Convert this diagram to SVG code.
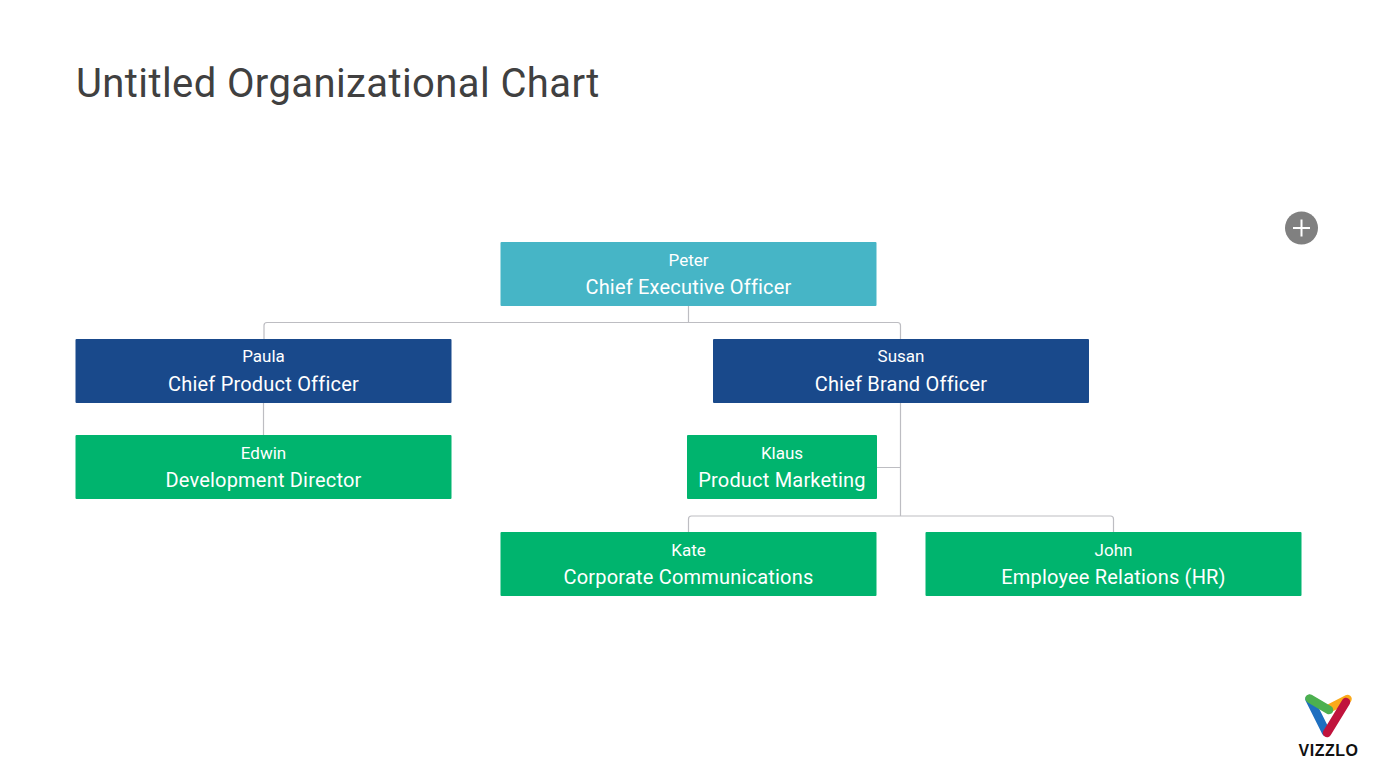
<svg xmlns="http://www.w3.org/2000/svg" width="1378" height="778" viewBox="0 0 1378 778">
<style>
text{font-family:Roboto,"Liberation Sans",sans-serif;text-anchor:middle;fill:#fff}
.n{font-size:17px;font-weight:400}
.r{font-size:20px;font-weight:400;letter-spacing:.2px}
.c{fill:none;stroke:#bdbdc2;stroke-width:1.2}
.g{fill:#00b46e}.b{fill:#19498b}
</style>
<rect width="1378" height="778" fill="#fff"/>
<text id="title" x="76" y="97" font-size="40" style="text-anchor:start;fill:#404040;letter-spacing:.4px">Untitled Organizational Chart</text>
<g id="connectors">
<path class="c" d="M688.500 306V322.500M264 339V325.500Q264 322.500 267 322.500H897.500Q900.500 322.500 900.500 325.500V339"/>
<path class="c" d="M263.500 403V435"/>
<path class="c" d="M900.500 403V516M877 467.500H900.500M688.500 532V519Q688.500 516 691.500 516H1110.500Q1113.500 516 1113.500 519V532"/>
</g>
<g id="peter"><rect x="500.500" y="242" width="376" height="64" rx="1" fill="#46b5c6"/><text class="n" x="688.500" y="265.500">Peter</text><text class="r" x="688.500" y="294">Chief Executive Officer</text></g>
<g id="paula"><rect class="b" x="75.500" y="339" width="376" height="64" rx="1"/><text class="n" x="263.500" y="362">Paula</text><text class="r" x="263.500" y="391">Chief Product Officer</text></g>
<g id="susan"><rect class="b" x="713" y="339" width="376" height="64" rx="1"/><text class="n" x="901" y="362">Susan</text><text class="r" x="901" y="391">Chief Brand Officer</text></g>
<g id="edwin"><rect class="g" x="75.500" y="435" width="376" height="64" rx="1"/><text class="n" x="263.500" y="459">Edwin</text><text class="r" x="263.500" y="487">Development Director</text></g>
<g id="klaus"><rect class="g" x="687" y="435" width="190" height="64" rx="1"/><text class="n" x="782" y="459">Klaus</text><text class="r" x="782" y="487">Product Marketing</text></g>
<g id="kate"><rect class="g" x="500.500" y="532" width="376" height="64" rx="1"/><text class="n" x="688.500" y="556">Kate</text><text class="r" x="688.500" y="584">Corporate Communications</text></g>
<g id="john"><rect class="g" x="925.500" y="532" width="376" height="64" rx="1"/><text class="n" x="1113.500" y="556">John</text><text class="r" x="1113.500" y="584">Employee Relations (HR)</text></g>
<g id="add"><circle cx="1301.500" cy="228" r="16.500" fill="#808080"/><path d="M1293 228H1310M1301.500 219.500V236.500" stroke="#fff" stroke-width="2" fill="none"/></g>
<g id="logo" fill="none" stroke-linecap="round" stroke-width="8.500">
<path d="M1309.500 699L1326 732" stroke="#1f6fc0"/>
<path d="M1347.500 699L1330 708" stroke="#fbaa19"/>
<path d="M1346 702L1327 733" stroke="#c0133c"/>
<path d="M1309.500 698.500L1329 710" stroke="#4cb04f"/>
<text x="1328.500" y="756" font-size="16" font-weight="700" stroke="none" stroke-width="0" style="fill:#111;font-family:'Liberation Sans',sans-serif;letter-spacing:.5px">VIZZLO</text>
</g>
</svg>
